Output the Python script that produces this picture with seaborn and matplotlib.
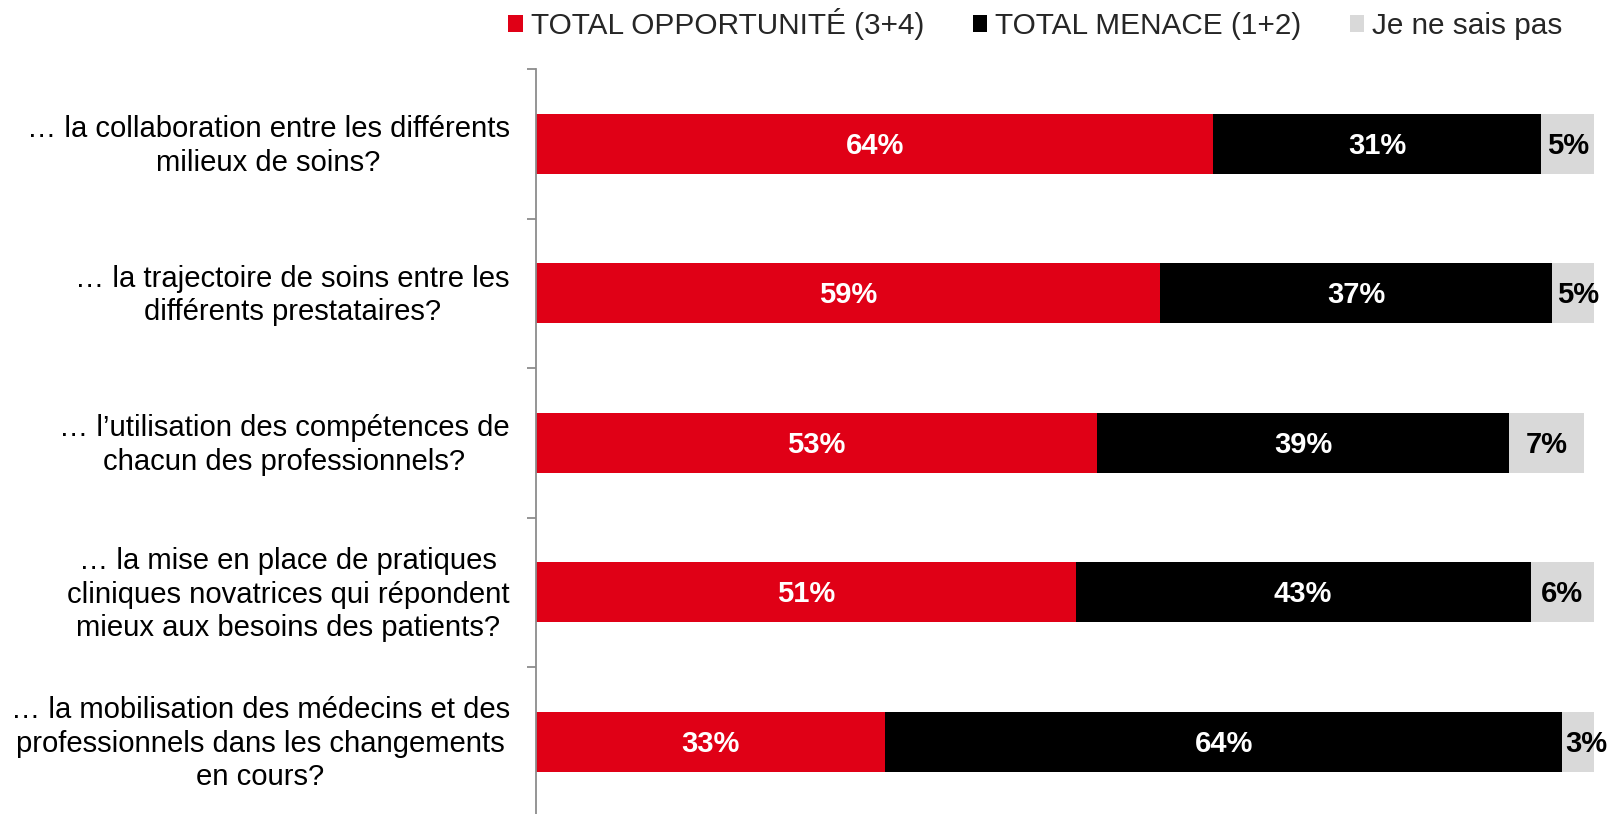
import matplotlib
matplotlib.use("Agg")
import matplotlib.pyplot as plt
from matplotlib.patches import Patch
from matplotlib.transforms import ScaledTranslation
import numpy as np
import pandas as pd
import seaborn as sns

# Survey items and shares (%)
questions = [
    "… la collaboration entre les différents\nmilieux de soins?",
    "… la trajectoire de soins entre les\ndifférents prestataires?",
    "… l’utilisation des compétences de\nchacun des professionnels?",
    "… la mise en place de pratiques\ncliniques novatrices qui répondent\nmieux aux besoins des patients?",
    "… la mobilisation des médecins et des\nprofessionnels dans les changements\nen cours?",
]
opportunite = [64, 59, 53, 51, 33]
menace = [31, 37, 39, 43, 64]
ne_sais_pas = [5, 5, 7, 6, 3]

series_names = ["TOTAL OPPORTUNITÉ (3+4)", "TOTAL MENACE (1+2)", "Je ne sais pas"]
colors = ["#E00016", "#000000", "#D9D9D9"]
label_colors = ["white", "white", "black"]

sns.set_theme(style="white")
plt.rcParams["font.family"] = ["Liberation Sans", "DejaVu Sans"]

df = pd.DataFrame({
    "question": questions,
    "opp": opportunite,
    "men": menace,
    "nsp": ne_sais_pas,
})
df["cum_opp"] = df["opp"]
df["cum_men"] = df["opp"] + df["men"]
df["cum_nsp"] = df["opp"] + df["men"] + df["nsp"]

fig = plt.figure(figsize=(16.22, 8.14), dpi=100)
ax = fig.add_axes([0.3305, -0.003, 0.6523, 0.918])

# Stacked bars drawn as overlapping cumulative totals
for col, color in zip(["cum_nsp", "cum_men", "cum_opp"], colors[::-1]):
    sns.barplot(data=df, x=col, y="question", orient="y", color=color,
                width=0.4, saturation=1, ax=ax, edgecolor="none", linewidth=0)

# Segment value labels (kept from spilling left of their segment)
min_half = 2.3
nudge_down = ScaledTranslation(0, -1.5 / 72, fig.dpi_scale_trans)
for i in range(len(questions)):
    starts = [0, opportunite[i], opportunite[i] + menace[i]]
    vals = [opportunite[i], menace[i], ne_sais_pas[i]]
    for s, v, tc in zip(starts, vals, label_colors):
        xc = max(s + v / 2, s + min_half)
        ax.text(xc, i, f"{v}%", ha="center", va="center",
                color=tc, fontsize=21, fontweight="bold",
                transform=ax.transData + nudge_down)

ax.set_xlim(0, 100)
ax.set_ylim(len(questions) - 0.5, -0.5)
ax.set_xlabel("")
ax.set_ylabel("")
ax.set_xticks([])

for side in ["top", "right", "bottom"]:
    ax.spines[side].set_visible(False)
ax.spines["left"].set_color("#8C8C8C")
ax.spines["left"].set_linewidth(1.3)

ax.tick_params(axis="y", which="major", length=0, pad=19, labelsize=21.1,
               labelcolor="black")
nudge_up = ScaledTranslation(0, 2.5 / 72, fig.dpi_scale_trans)
for lab in ax.get_yticklabels():
    lab.set_multialignment("center")
    lab.set_linespacing(1.25)
    lab.set_transform(lab.get_transform() + nudge_up)

ax.set_yticks(np.arange(len(questions) + 1) - 0.5, minor=True)
ax.tick_params(axis="y", which="minor", length=6.5, width=1.3,
               color="#8C8C8C", direction="out", left=True)

handles = [Patch(facecolor=c, edgecolor="none") for c in colors]
fig.legend(handles, series_names, loc="center left",
           bbox_to_anchor=(0.3135, 0.970), ncol=3, frameon=False,
           fontsize=21.4, handlelength=0.5, handleheight=0.5,
           handletextpad=0.25, columnspacing=1.63, borderpad=0,
           borderaxespad=0)

fig.savefig("out.png", dpi=100, facecolor="white")
